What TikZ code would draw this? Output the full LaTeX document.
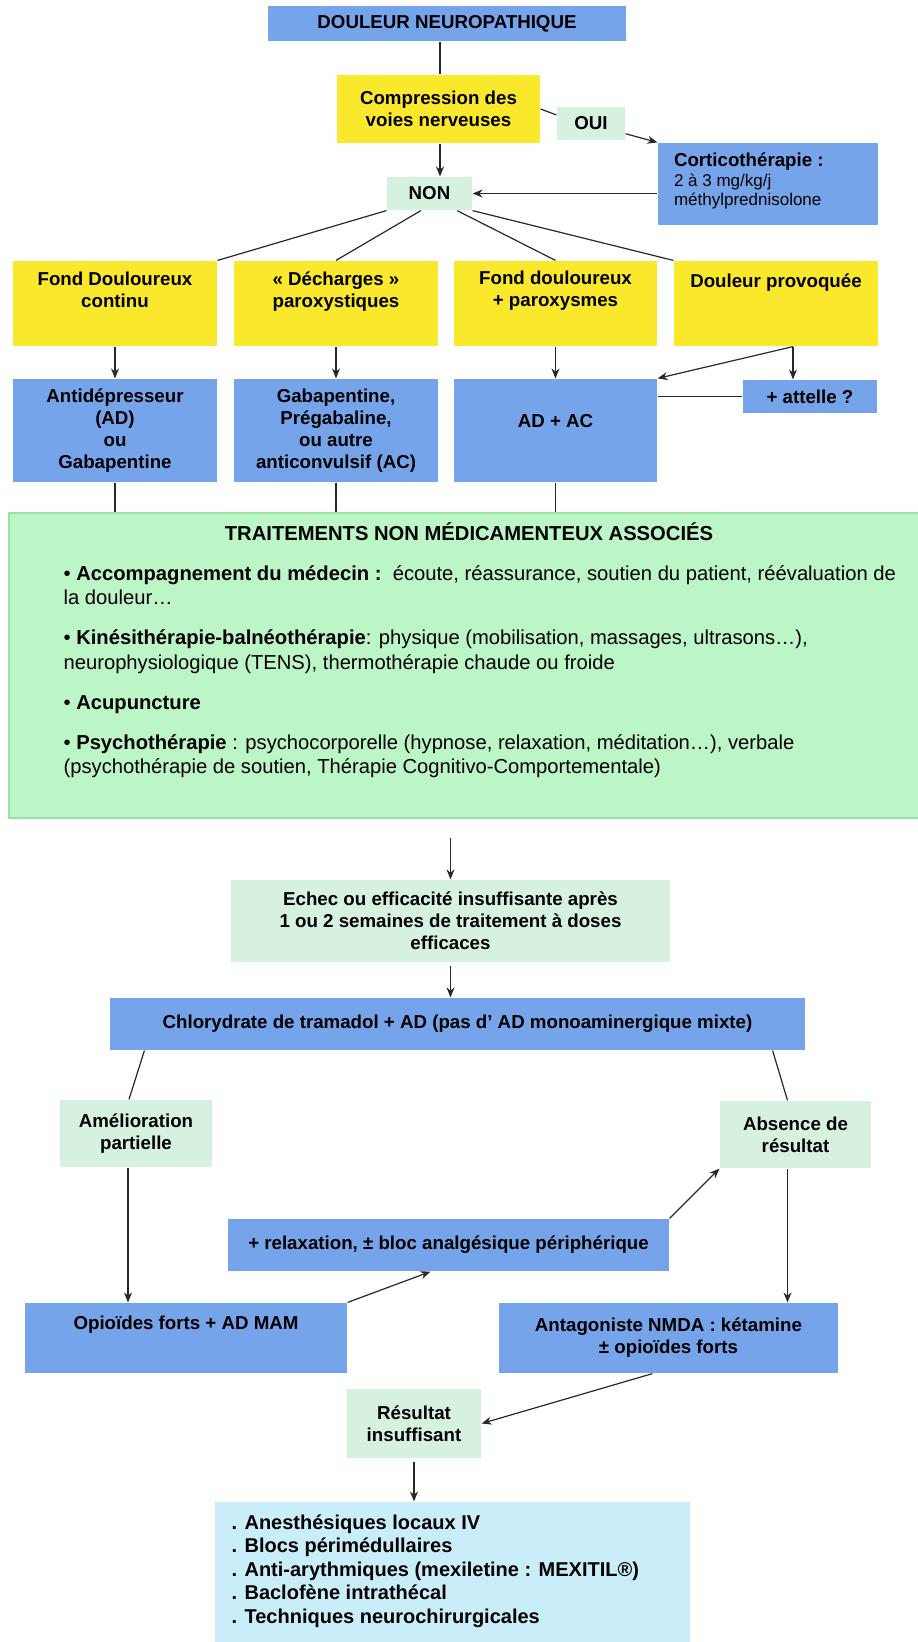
\documentclass[tikz,border=0pt]{standalone}
\usepackage{fontspec}
\setmainfont{Liberation Sans}
\usepackage{tikz}
\usetikzlibrary{arrows.meta,positioning,calc}
\definecolor{boxblue}{RGB}{118,164,234}
\definecolor{boxyellow}{RGB}{250,232,44}
\definecolor{palegreen}{RGB}{214,241,221}
\definecolor{mintgreen}{RGB}{188,245,198}
\definecolor{mintedge}{RGB}{150,228,160}
\definecolor{palecyan}{RGB}{201,238,250}
\definecolor{linegray}{RGB}{40,40,40}
\newcommand{\regtext}{\mdseries\fontsize{17}{19}\selectfont}

\begin{document}
\begin{tikzpicture}[x=1pt,y=-1pt,>={Stealth[length=10pt,width=8pt]},line width=1.2pt,
  font=\fontsize{18.7}{22}\selectfont\bfseries]
        \tikzstyle{block}=[rectangle,inner sep=0pt,fill=boxblue,align=center]
        \tikzstyle{cond}=[block,fill=boxyellow]
        \tikzstyle{answer}=[block,fill=palegreen]
        \tikzstyle{lbl}=[inner sep=0pt,align=center]
        \tikzstyle{link}=[draw=linegray]
        \useasboundingbox (0,0) rectangle (918,1642);
        % upper part
        \node[block,minimum width=358,minimum height=35] (douleur) at (447,23.5) {DOULEUR NEUROPATHIQUE};
        \node[cond,minimum width=203,minimum height=68] (compr) at (438.5,109) {Compression des\\voies nerveuses};
        \node[answer,minimum width=68,minimum height=33] (oui) at (591,123.5) {OUI};
        \node[block,minimum width=220,minimum height=82] (cortico) at (768,184) {};
        \node[lbl,align=left,anchor=north west] (cortico-t) at ($(cortico.north west)+(16,10)$)
          {Corticothérapie :\\[-2pt]\regtext 2 à 3 mg/kg/j\\[-3pt]\regtext méthylprednisolone};
        \node[answer,minimum width=85,minimum height=33] (non) at (429.5,193.5) {NON};
        \node[cond,minimum width=204,minimum height=85] (fdc) at (115,303.5) {};
        \node[cond,minimum width=204,minimum height=85] (dech) at (336,303.5) {};
        \node[cond,minimum width=203,minimum height=85] (fdp) at (555.5,303.5) {};
        \node[cond,minimum width=204,minimum height=85] (prov) at (776,303.5) {};
        \node[lbl,below=11pt of fdc.north] (fdc-t) {Fond Douloureux\\continu};
        \node[lbl,below=11pt of dech.north] (dech-t) {« Décharges »\\paroxystiques};
        \node[lbl,below=10pt of fdp.north] (fdp-t) {Fond douloureux\\+ paroxysmes};
        \node[lbl,below=13pt of prov.north] (prov-t) {Douleur provoquée};
        \node[block,minimum width=204,minimum height=103] (antid) at (115,430.5) {Antidépresseur\\(AD)\\ou\\Gabapentine};
        \node[block,minimum width=204,minimum height=103] (gaba) at (336,430.5) {Gabapentine,\\Prégabaline,\\ou autre\\anticonvulsif (AC)};
        \node[block,minimum width=203,minimum height=103] (adac) at (555.5,430.5) {};
        \node[lbl,below=35pt of adac.north] (adac-t) {AD + AC};
        \node[block,minimum width=134,minimum height=33] (attelle) at (810,396.5) {+ attelle ?};
        \coordinate (provout) at ($(prov.south)+(17,0)$);
        % non drug box
        \node[rectangle,fill=mintgreen,draw=mintedge,line width=2pt,minimum width=916,minimum height=305] (assoc) at (467,665.5) {};
        \node[lbl,font=\fontsize{20.2}{24}\selectfont\bfseries] (assoc-t) at (469,532) {TRAITEMENTS NON MÉDICAMENTEUX ASSOCIÉS};
        \node[lbl,align=left,anchor=north west,font=\fontsize{20.2}{24.5}\selectfont\mdseries] (assoc-b) at (63,565)
          {• \textbf{Accompagnement du médecin :}\ \ écoute, réassurance, soutien du patient, réévaluation de\\
           la douleur…\\[15.5pt]
           • \textbf{Kinésithérapie-balnéothérapie}: physique (mobilisation, massages, ultrasons…),\\
           neurophysiologique (TENS), thermothérapie chaude ou froide\\[15.5pt]
           • \textbf{Acupuncture}\\[15.5pt]
           • \textbf{Psychothérapie} : psychocorporelle (hypnose, relaxation, méditation…), verbale\\
           (psychothérapie de soutien, Thérapie Cognitivo-Comportementale)};
        % lower part
        \node[answer,minimum width=439,minimum height=82] (echec) at (450.5,921) {Echec ou efficacité insuffisante après\\1 ou 2 semaines de traitement à doses\\efficaces};
        \node[block,minimum width=695,minimum height=52] (chlor) at (457.5,1024) {Chlorydrate de tramadol + AD (pas d’ AD monoaminergique mixte)};
        \node[answer,minimum width=152,minimum height=67] (amel) at (136,1133.5) {Amélioration\\partielle};
        \node[answer,minimum width=151,minimum height=67] (absence) at (795.5,1134.5) {Absence de\\résultat};
        \node[block,minimum width=441,minimum height=52] (relax) at (448.5,1245) {+ relaxation, ± bloc analgésique périphérique};
        \node[block,minimum width=322,minimum height=70] (opio) at (186,1338) {};
        \node[lbl,below=13pt of opio.north] (opio-t) {Opioïdes forts + AD MAM};
        \node[block,minimum width=339,minimum height=70] (antag) at (668.5,1338) {Antagoniste NMDA : kétamine\\± opioïdes forts};
        \node[answer,minimum width=134,minimum height=69] (result) at (414,1423.5) {Résultat\\insuffisant};
        \node[block,fill=palecyan,minimum width=475,minimum height=146] (final) at (452.5,1575) {};
        \node[lbl,align=left,anchor=north west,font=\fontsize{20}{23.5}\selectfont\bfseries] (final-t) at (231,1514)
          {. Anesthésiques locaux IV\\. Blocs périmédullaires\\. Anti-arythmiques (mexiletine : MEXITIL®)\\. Baclofène intrathécal\\. Techniques neurochirurgicales};
        \coordinate (amelout) at ($(amel.south)+(-8,0)$);
        \coordinate (absout) at ($(absence.south)+(-8,0)$);
        % connectors
        \draw[link] (douleur.south -| compr.north) ++(1.5,0) -- ($(compr.north)+(1.5,0)$);
        \draw[link,->] ($(compr.south)+(1.5,0)$) -- ($(compr.south |- non.north)+(1.5,0)$);
        \draw[link] ($(compr.north east)!0.5!(compr.south east)$) -- ($(oui.north west)!0.25!(oui.south west)$);
        \draw[link,->] ($(oui.north east)!0.8!(oui.south east)$) -- (cortico.north west);
        \draw[link,->] (cortico.west |- non.east) -- (non.east);
        \draw[link] (non.south west) -- (fdc.north east);
        \draw[link] ($(non.south west)!0.4!(non.south east)$) -- (dech.north);
        \draw[link] ($(non.south west)!0.82!(non.south east)$) -- (fdp.north);
        \draw[link] (non.south east) -- (prov.north west);
        \draw[link,->] (fdc) -- (antid);
        \draw[link,->] (dech) -- (gaba);
        \draw[link,->] (fdp) -- (adac);
        \draw[link,->] (provout) -- (provout |- attelle.north);
        \draw[link,->] (provout) -- (adac.north east);
        \draw[link] (attelle.west) -- (attelle.west -| adac.east);
        \draw[link] (antid) -- (antid |- assoc.north);
        \draw[link] (gaba) -- (gaba |- assoc.north);
        \draw[link] (adac) -- (adac |- assoc.north);
        \draw[link,->,shorten <=19pt] (assoc.south -| echec.north) -- (echec.north);
        \draw[link,->,shorten <=3pt] (echec.south) -- (echec.south |- chlor.north);
        \draw[link] ($(chlor.south west)+(35,0)$) -- ($(amel.north)+(-7,0)$);
        \draw[link] ($(chlor.south east)+(-33,0)$) -- ($(absence.north)+(-8,0)$);
        \draw[link,->] (amelout) -- (amelout |- opio.north);
        \draw[link,->] (absout) -- (absout |- antag.north);
        \draw[link,->] (relax.north east) -- (absence.south west);
        \draw[link,->] (opio.north east) -- ($(relax.south)+(-18,0)$);
        \draw[link,->] ($(antag.south)+(-16,0)$) -- (result.east);
        \draw[link,->,shorten <=3pt] (result.south) -- (result.south |- final.north);
\end{tikzpicture}
\end{document}
